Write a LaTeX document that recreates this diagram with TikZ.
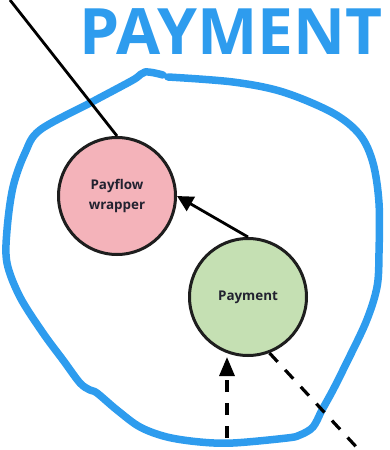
\documentclass[tikz,border=0pt]{standalone}
\usepackage{fontspec}
\setmainfont{Open Sans}
\usetikzlibrary{arrows.meta}
\definecolor{zoneblue}{RGB}{46,156,238}
\definecolor{wrapfill}{RGB}{244,179,186}
\definecolor{payfill}{RGB}{197,224,179}
\definecolor{inkdark}{RGB}{30,30,30}
\definecolor{textdark}{RGB}{34,34,48}
\tikzset{
  comp/.style={circle, draw=inkdark, line width=3pt, minimum size=117pt,
    inner sep=0pt, align=center, text=textdark, font=\bfseries\fontsize{13.4}{20}\selectfont},
  link/.style={draw=black, line width=2.8pt},
  dashlink/.style={draw=black, line width=3.2pt, dash pattern=on 12pt off 11pt},
  tip/.style={-{Triangle[length=19pt,width=15pt]}},
  tipsmall/.style={-{Triangle[length=16pt,width=16pt]}},
}
\begin{document}
\begin{tikzpicture}[x=1pt,y=-1pt]
\useasboundingbox (0,0) rectangle (389,450);

% title
\node[text=zoneblue, font=\bfseries\fontsize{64}{64}\selectfont, anchor=base]
  (title) at (231,54) {PAYMENT};

% hand-drawn boundary of the payment zone (open near the top)
\draw[zoneblue, line width=7.5pt, line cap=round, line join=round]
  plot[smooth, tension=0.55] coordinates {
    (168,77) (233,82) (283,92) (333,113) (360,135) (373,163) (379,203)
    (379,253) (377,287) (366,322) (345,366) (333,390) (322,410) (313,427)
    (300,435) (287,438) (233,443) (200,442) (167,437) (140,427) (117,410)
    (97,393) (90,390) (80,383) (63,360) (43,333) (20,297) (7,263) (7,230)
    (13,187) (25,153) (40,130) (90,103) (133,80) (145,72) (163,75)};

% components
\node[comp, fill=wrapfill] (wrap) at (117,196) {Payflow\\wrapper};
\node[comp, fill=payfill] (pay) at (248,297) {Payment};

% connectors
\coordinate (outside) at (10,0);
\coordinate (entry) at (227,438);
\coordinate (exit) at (361,452);
\draw[link] (outside) -- (wrap.north);
\draw[link, tipsmall] (pay.north) -- (wrap.east);
\draw[dashlink, tip] (entry) -- (pay.south -| entry);
\draw[dashlink] (pay.-69) -- (exit);
\end{tikzpicture}
\end{document}
